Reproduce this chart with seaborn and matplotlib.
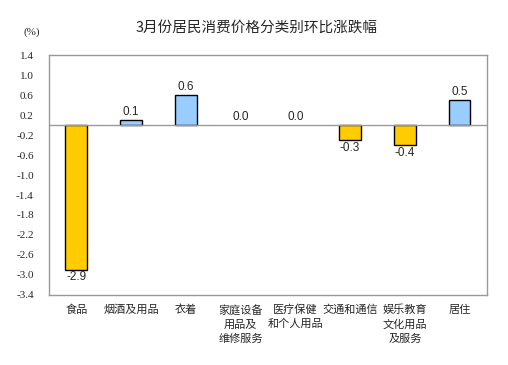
import numpy as np
import pandas as pd
import seaborn as sns
import matplotlib.pyplot as plt

# categories and month-on-month changes (%)
categories = ["食品", "烟酒及用品", "衣着", "家庭设备\n用品及\n维修服务", "医疗保健\n和个人用品",
              "交通和通信", "娱乐教育\n文化用品\n及服务", "居住"]
values = [-2.9, 0.1, 0.6, 0.0, 0.0, -0.3, -0.4, 0.5]
y_ticks = [1.4, 1.0, 0.6, 0.2, -0.2, -0.6, -1.0, -1.4, -1.8, -2.2, -2.6, -3.0, -3.4]

df = pd.DataFrame({"cat": categories, "val": values})
df["sign"] = np.where(df["val"] < 0, "neg", "pos")

sns.set_style("white")
plt.rcParams["font.family"] = ["Noto Sans CJK SC", "DejaVu Sans"]

fig = plt.figure(figsize=(5.08, 3.65), dpi=100)
ax = fig.add_axes([0.0965, 0.192, 0.862, 0.657])

sns.barplot(data=df, x="cat", y="val", hue="sign",
            palette={"neg": "#FFCC00", "pos": "#99CCFF"}, saturation=1,
            width=0.4, edgecolor="black", linewidth=1.0,
            dodge=False, legend=False, ax=ax)

# zero-height bars are not drawn in the original
for p in ax.patches:
    if abs(p.get_height()) < 1e-9:
        p.set_visible(False)

ax.set_ylim(-3.4, 1.4)
ax.set_xlim(-0.5, len(categories) - 0.5)
ax.set_yticks(y_ticks)
ax.set_yticklabels([f"{t:.1f}" for t in y_ticks], fontsize=8)
for lab in ax.get_yticklabels():
    lab.set_fontfamily("Liberation Serif")
ax.tick_params(axis="y", length=0, pad=11)
ax.tick_params(axis="x", length=0, pad=7)
ax.set_xticks(range(len(categories)))
ax.set_xticklabels(categories, fontsize=8, linespacing=1.45, va="top")
ax.set_xlabel("")
ax.set_ylabel("")
for s in ax.spines.values():
    s.set_color("#999999")
    s.set_linewidth(1.0)
ax.axhline(0, color="#999999", linewidth=1.0, zorder=1)

for i, v in enumerate(values):
    if v < 0:
        ax.text(i, v - 0.03, f"{v:.1f}", ha="center", va="top", fontsize=8.5,
                family="Liberation Sans")
    else:
        ax.text(i, v + 0.05, f"{v:.1f}", ha="center", va="bottom", fontsize=8.5,
                family="Liberation Sans")

fig.text(0.506, 0.923, "3月份居民消费价格分类别环比涨跌幅", ha="center", va="center", fontsize=10.5)
fig.text(0.063, 0.912, "(%)", ha="center", va="center", fontsize=8, family="Liberation Serif")

fig.savefig("out.png", dpi=100)
